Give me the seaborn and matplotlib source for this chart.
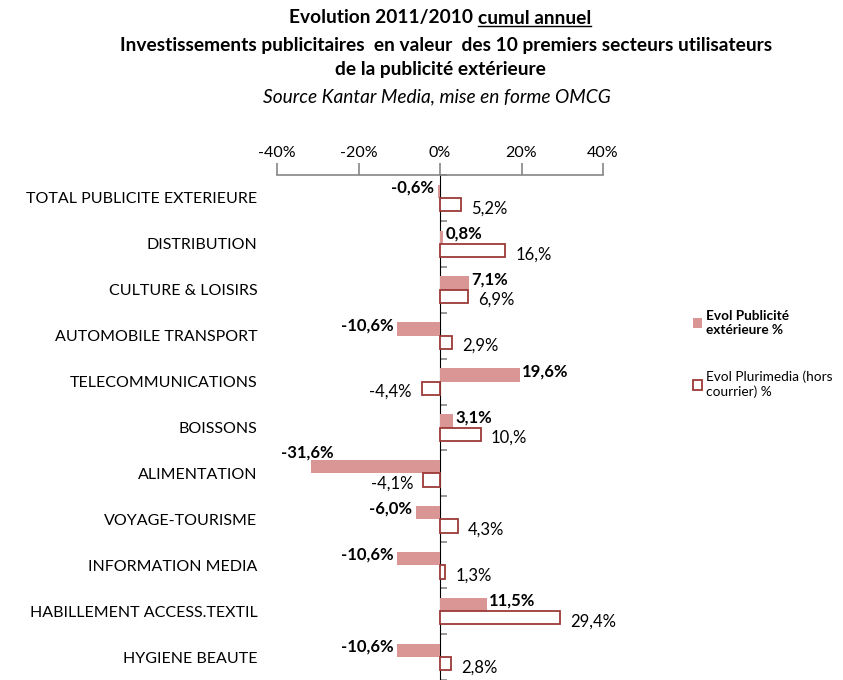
import matplotlib
matplotlib.use("Agg")
import matplotlib.pyplot as plt
import seaborn as sns
import pandas as pd
from matplotlib.patches import Patch

categories = ["TOTAL PUBLICITE EXTERIEURE", "DISTRIBUTION", "CULTURE & LOISIRS",
              "AUTOMOBILE TRANSPORT", "TELECOMMUNICATIONS", "BOISSONS", "ALIMENTATION",
              "VOYAGE-TOURISME", "INFORMATION MEDIA", "HABILLEMENT ACCESS.TEXTIL",
              "HYGIENE BEAUTE"]
pub_ext = [-0.6, 0.8, 7.1, -10.6, 19.6, 3.1, -31.6, -6.0, -10.6, 11.5, -10.6]
plurimedia = [5.2, 16.0, 6.9, 2.9, -4.4, 10.0, -4.1, 4.3, 1.3, 29.4, 2.8]
pub_labels = ["-0,6%", "0,8%", "7,1%", "-10,6%", "19,6%", "3,1%", "-31,6%",
              "-6,0%", "-10,6%", "11,5%", "-10,6%"]
pluri_labels = ["5,2%", "16,%", "6,9%", "2,9%", "-4,4%", "10,%", "-4,1%",
                "4,3%", "1,3%", "29,4%", "2,8%"]
series_names = ["Evol Publicité\nextérieure %", "Evol Plurimedia (hors\ncourrier) %"]
xticks = [-40, -20, 0, 20, 40]

FONT = ["Lato", "DejaVu Sans"]
plt.rcParams["font.family"] = FONT

PINK = "#D99694"
DARK = "#9B3A38"
GRAY = "#868686"

df = pd.DataFrame({
    "cat": categories * 2,
    "val": pub_ext + plurimedia,
    "serie": [series_names[0]] * len(categories) + [series_names[1]] * len(categories),
})

fig = plt.figure(figsize=(8.43, 6.8), dpi=100)
ax = fig.add_axes([277 / 843, 0.0, (603 - 277) / 843, (680 - 175) / 680])

sns.barplot(data=df, y="cat", x="val", hue="serie", orient="h", order=categories,
            hue_order=series_names, palette=[PINK, "white"], width=0.58,
            ax=ax, legend=False, errorbar=None, saturation=1)

n = len(categories)
for i, p in enumerate(ax.patches[:2 * n]):
    if i < n:
        p.set_facecolor(PINK)
        p.set_edgecolor("none")
    else:
        p.set_facecolor("white")
        p.set_edgecolor(DARK)
        p.set_linewidth(1.3)

ax.set_xlim(-40, 40)
ax.set_ylim(n - 0.5, -0.5)
ax.xaxis.tick_top()
ax.set_xticks(xticks)
ax.set_xticklabels([f"{t}%" for t in xticks], fontsize=11.5)
ax.tick_params(axis="x", direction="out", length=9, color=GRAY, width=1.2, pad=2)
ax.tick_params(axis="y", length=0, labelsize=11.5, pad=14)
ax.set_xlabel("")
ax.set_ylabel("")
for s in ["left", "right", "bottom"]:
    ax.spines[s].set_visible(False)
ax.spines["top"].set_color(GRAY)
ax.spines["top"].set_linewidth(1.2)

# vertical axis at zero with boundary ticks
sec = ax.secondary_yaxis(0.5)
sec.set_yticks([i + 0.5 for i in range(-1, n)])
sec.set_yticklabels([])
sec.tick_params(axis="y", direction="out", length=5, color=GRAY, width=1.2)
sec.spines["left"].set_color(GRAY)
sec.spines["left"].set_linewidth(1.5)

off = 0.145
for i, (v, lab) in enumerate(zip(pub_ext, pub_labels)):
    y = i - off - 0.08
    if v >= 0:
        ax.text(v + 0.6, y, lab, ha="left", va="center", fontsize=12, fontweight="bold")
    elif v - 0.8 < -26:
        ax.text(-26, i - off - 0.3, lab, ha="right", va="center", fontsize=12,
                fontweight="bold")
    else:
        ax.text(v - 0.8, y, lab, ha="right", va="center", fontsize=12, fontweight="bold")
for i, (v, lab) in enumerate(zip(plurimedia, pluri_labels)):
    y = i + off + 0.08
    if v >= 0:
        ax.text(v + 2.5, y, lab, ha="left", va="center", fontsize=12)
    else:
        ax.text(v - 2.5, y, lab, ha="right", va="center", fontsize=12)

# titles
TS = 13.8
CX = 440 / 843
t1a = fig.text(CX, 1 - 18 / 680, "Evolution 2011/2010 ", ha="left", va="center",
               fontsize=TS, fontweight="bold")
t1b = fig.text(CX, 1 - 18 / 680, "cumul annuel", ha="left", va="center",
               fontsize=TS, fontweight="bold")
fig.text(CX + 6 / 843, 1 - 45 / 680,
         "Investissements publicitaires  en valeur  des 10 premiers secteurs utilisateurs",
         ha="center", va="center", fontsize=TS, fontweight="bold")
fig.text(CX, 1 - 70 / 680, "de la publicité extérieure", ha="center", va="center",
         fontsize=TS, fontweight="bold")
fig.text(CX - 3 / 843, 1 - 97 / 680, "Source Kantar Media, mise en forme OMCG",
         ha="center", va="center", fontsize=TS, style="italic")

fig.canvas.draw()
r = fig.canvas.get_renderer()
W = fig.bbox.width
wa = t1a.get_window_extent(r).width
wb = t1b.get_window_extent(r).width
x0 = CX * W - (wa + wb) / 2
t1a.set_x(x0 / W)
t1b.set_x((x0 + wa) / W)
fig.canvas.draw()
bb = t1b.get_window_extent(r)
fig.add_artist(plt.Line2D([bb.x0 / W, bb.x1 / W],
                          [(bb.y0 + 1) / fig.bbox.height] * 2, color="black", lw=1,
                          transform=fig.transFigure))

handles = [Patch(facecolor=PINK, edgecolor="none"),
           Patch(facecolor="white", edgecolor=DARK, linewidth=1.3)]
leg = fig.legend(handles, series_names, loc="upper left",
                 bbox_to_anchor=(683 / 843, 1 - 300 / 680), frameon=False,
                 fontsize=9.8, handlelength=0.7, handleheight=0.7, handletextpad=0.3,
                 labelspacing=2.6, borderpad=0.2)
leg.get_texts()[0].set_fontweight("bold")

fig.savefig("out.png", dpi=100)
